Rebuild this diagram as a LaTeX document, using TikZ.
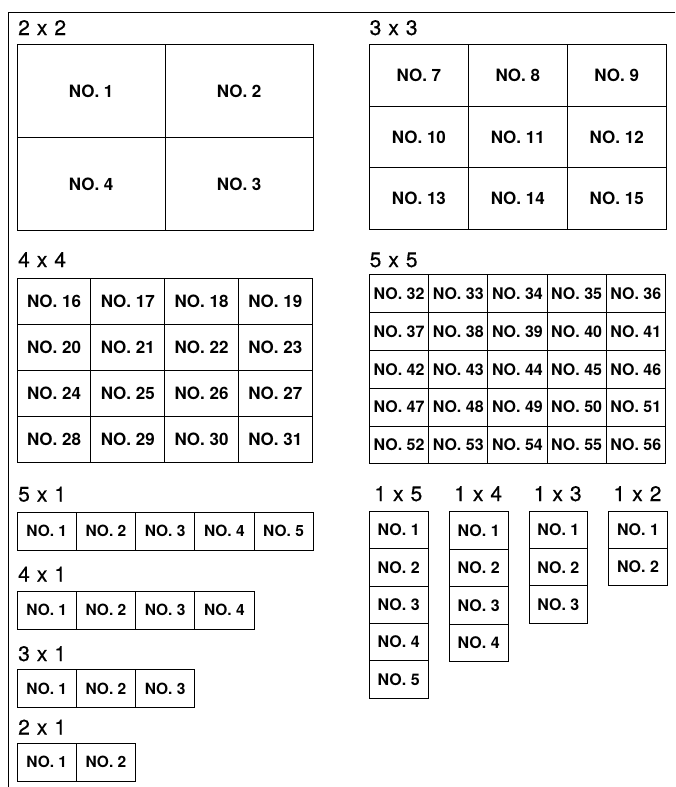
\documentclass[tikz,border=0pt]{standalone}
\usepackage{fontspec}
\setmainfont{TeX Gyre Heros}
\newfontfamily\lblfont[WordSpace=1.2, FakeBold=0.5]{TeX Gyre Heros}
\begin{document}
\begin{tikzpicture}[x=1pt,y=-1pt,
  cell/.style={draw=black, line width=0.9pt, inner sep=0pt, anchor=north west,
    font=\fontsize{17}{17}\selectfont\bfseries},
  midcell/.style={cell, font=\fontsize{16}{16}\selectfont\bfseries},
  smallcell/.style={cell, minimum width=59.2pt, minimum height=38.3pt,
    font=\fontsize{15.5}{15.5}\selectfont\bfseries},
  colcell/.style={cell, minimum width=58.5pt, minimum height=#1pt,
    font=\fontsize{16}{16}\selectfont\bfseries},
  lbl/.style={inner sep=0pt, font=\lblfont\fontsize{21}{21}\selectfont}]
\useasboundingbox (0,0) rectangle (675,787);
\coordinate (fr) at (675,12);
\coordinate (fc) at (8.5,12);
\coordinate (fb) at (8.5,787);
\draw[line width=0.9pt] (fr) -- (fc) -- (fb);

% 2 x 2
\node[lbl, anchor=base west] (L22) at (18,35) {2 x 2};
\foreach \r/\c/\t in {0/0/1,0/1/2,1/0/4,1/1/3}
  \node[cell, minimum width=148pt, minimum height=93pt] (a\t) at ({16.7+148*\c},{44+93*\r}) {NO. \t};

% 3 x 3
\node[lbl, anchor=base west] (L33) at (369.5,35) {3 x 3};
\foreach \r in {0,1,2} \foreach \c in {0,1,2} {
  \pgfmathtruncatemacro\n{7+3*\r+\c}
  \node[cell, minimum width=98.9pt, minimum height=61.6pt] (b\n) at ({369+98.9*\c},{44+61.6*\r}) {NO. \n};
}

% 4 x 4
\node[lbl, anchor=base west] (L44) at (18,267) {4 x 4};
\foreach \r in {0,1,2,3} \foreach \c in {0,1,2,3} {
  \pgfmathtruncatemacro\n{16+4*\r+\c}
  \node[cell, minimum width=73.75pt, minimum height=46pt] (c\n) at ({16.7+73.75*\c},{277.7+46*\r}) {NO. \n};
}

% 5 x 5
\node[lbl, anchor=base west] (L55) at (369.5,267) {5 x 5};
\foreach \r in {0,...,4} \foreach \c in {0,...,4} {
  \pgfmathtruncatemacro\n{32+5*\r+\c}
  \node[midcell, minimum width=59.2pt, minimum height=37.8pt] (d\n) at ({369+59.2*\c},{274.3+37.8*\r}) {NO. \n};
}

% rows
\node[lbl, anchor=base west] (L51) at (18,501.5) {5 x 1};
\foreach \c in {1,...,5}
  \node[smallcell] (e\c) at ({16.7+59.2*(\c-1)},511.7) {NO. \c};
\node[lbl, anchor=base west] (L41) at (18,581.5) {4 x 1};
\foreach \c in {1,...,4}
  \node[smallcell] (f\c) at ({16.7+59.2*(\c-1)},590.7) {NO. \c};
\node[lbl, anchor=base west] (L31) at (18,661) {3 x 1};
\foreach \c in {1,...,3}
  \node[smallcell] (g\c) at ({16.7+59.2*(\c-1)},669) {NO. \c};
\node[lbl, anchor=base west] (L21) at (18,734.5) {2 x 1};
\foreach \c in {1,...,2}
  \node[smallcell] (h\c) at ({16.7+59.2*(\c-1)},742.7) {NO. \c};

% columns
\node[lbl, anchor=base] (L15) at (398.3,501) {1 x 5};
\foreach \r in {1,...,5}
  \node[colcell=37.3] (p\r) at (369,{511+37.3*(\r-1)}) {NO. \r};
\node[lbl, anchor=base] (L14) at (478.2,501) {1 x 4};
\foreach \r in {1,...,4}
  \node[colcell=37.6] (q\r) at (449,{511+37.6*(\r-1)}) {NO. \r};
\node[lbl, anchor=base] (L13) at (557.7,501) {1 x 3};
\foreach \r in {1,...,3}
  \node[colcell=37.2] (s\r) at (528.7,{511+37.2*(\r-1)}) {NO. \r};
\node[lbl, anchor=base] (L12) at (637.5,501) {1 x 2};
\foreach \r in {1,...,2}
  \node[colcell=37] (t\r) at (608.3,{511+37*(\r-1)}) {NO. \r};
\end{tikzpicture}
\end{document}
